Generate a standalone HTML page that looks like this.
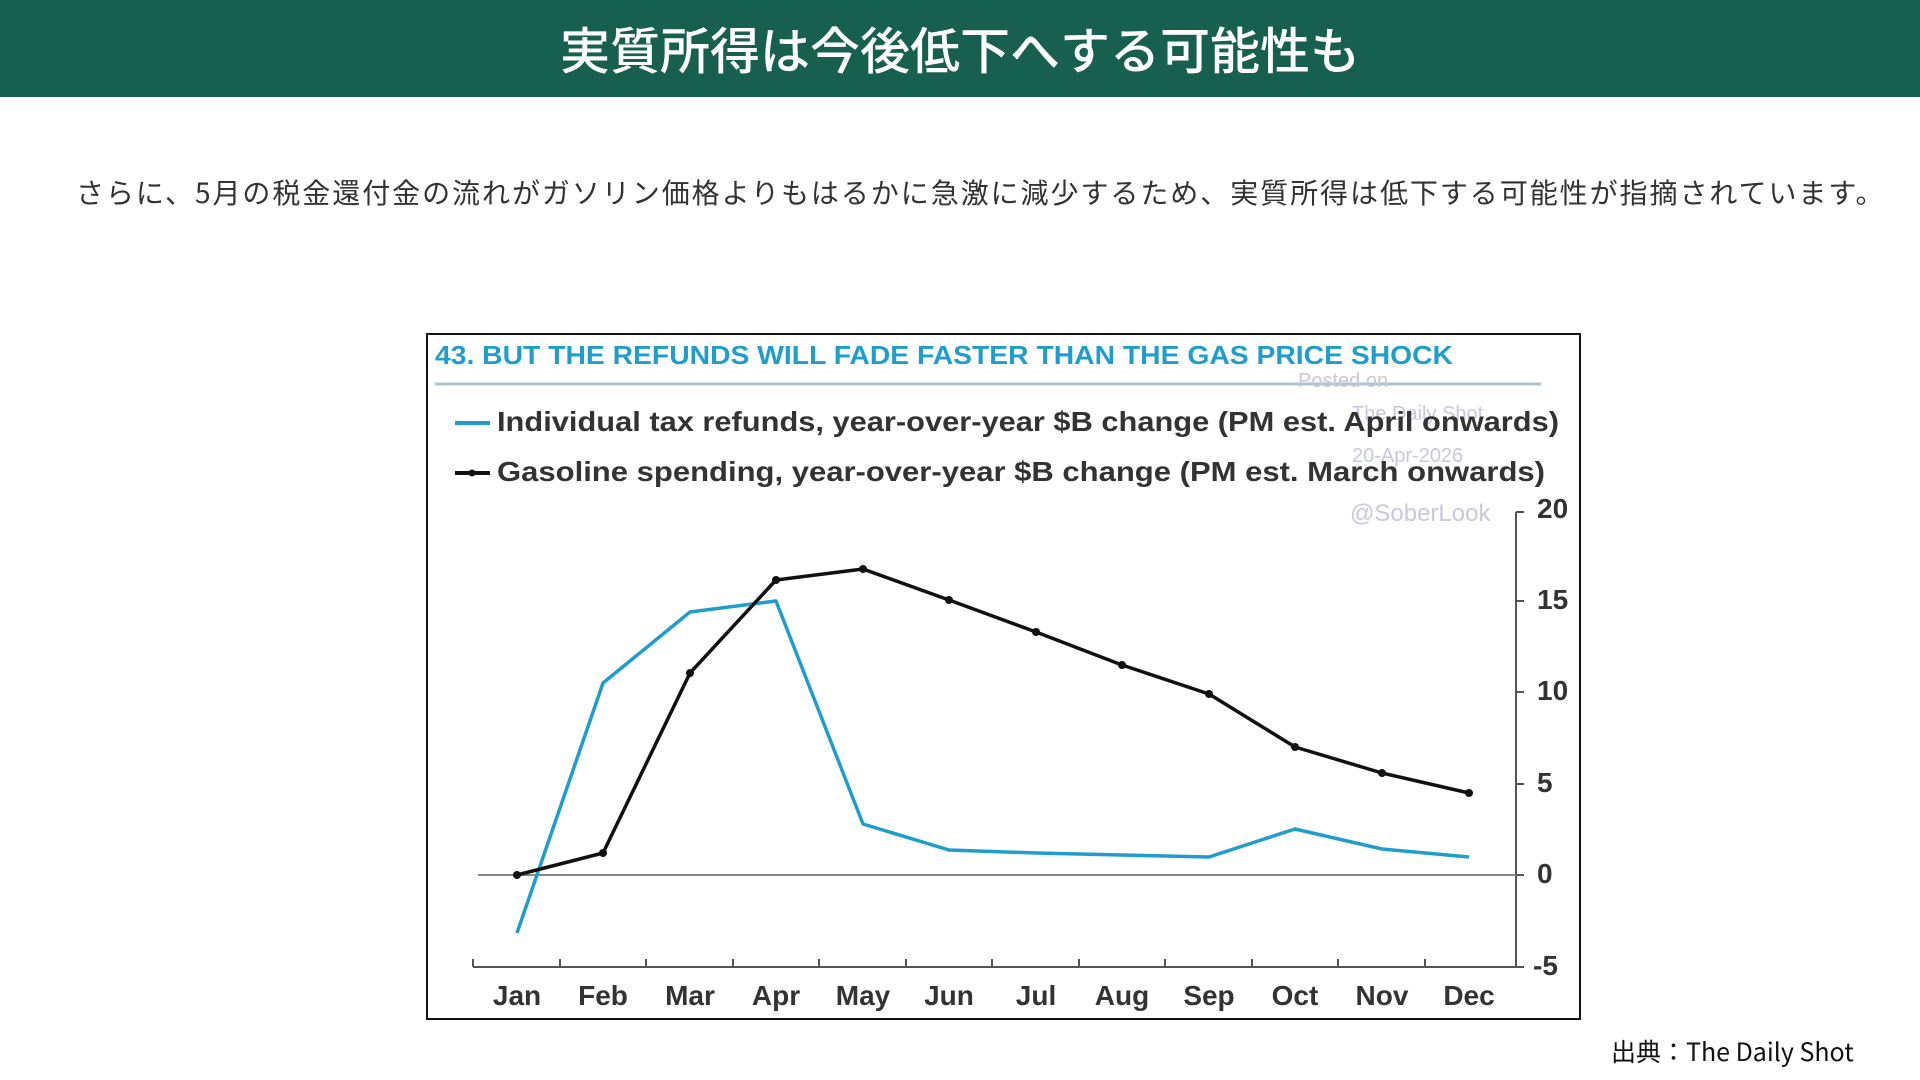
<!DOCTYPE html>
<html><head><meta charset="utf-8"><style>
body{margin:0;width:1920px;height:1080px;background:#fff;position:relative;overflow:hidden;font-family:"Liberation Sans","Noto Sans CJK JP",sans-serif}
.hd{position:absolute;left:0;top:0;width:1920px;height:97px;background:#17604f;color:#fff;font-size:50px;text-align:center;line-height:97px;font-family:"Noto Sans CJK JP",sans-serif;font-weight:500}
.p{position:absolute;left:76px;top:172px;font-size:28px;color:#333;font-family:"Noto Sans CJK JP",sans-serif;white-space:nowrap;letter-spacing:1.95px}
.src{position:absolute;left:1611px;top:1033px;font-size:25px;color:#111;font-family:"Noto Sans CJK JP",sans-serif}
svg{position:absolute;left:0;top:0}
</style></head><body>
<div class="hd">実質所得は今後低下へする可能性も</div>
<div class="p">さらに、5月の税金還付金の流れがガソリン価格よりもはるかに急激に減少するため、実質所得は低下する可能性が指摘されています。</div>
<svg width="1920" height="1080" viewBox="0 0 1920 1080" font-family="Liberation Sans, sans-serif">
<rect x="427" y="334" width="1153" height="685" fill="#fff" stroke="#111" stroke-width="2"/>
<text x="435" y="364" font-size="26" font-weight="bold" fill="#1f9dcc" textLength="1018" lengthAdjust="spacingAndGlyphs">43. BUT THE REFUNDS WILL FADE FASTER THAN THE GAS PRICE SHOCK</text>
<line x1="435" y1="384" x2="1541" y2="384" stroke="#aac4d0" stroke-width="3"/>
<g fill="#c8c8dc" font-size="20"><text x="1298" y="387">Posted on</text><text x="1352" y="420">The Daily Shot</text><text x="1352" y="462">20-Apr-2026</text><text x="1350" y="521" font-size="24">@SoberLook</text></g>
<line x1="455" y1="423" x2="490" y2="423" stroke="#1f9dcc" stroke-width="4"/>
<text x="497" y="431" font-size="28" font-weight="bold" fill="#333" textLength="1062" lengthAdjust="spacingAndGlyphs">Individual tax refunds, year-over-year $B change (PM est. April onwards)</text>
<line x1="455" y1="473" x2="490" y2="473" stroke="#111" stroke-width="4"/><circle cx="472" cy="473" r="3.5" fill="#111"/>
<text x="497" y="481" font-size="28" font-weight="bold" fill="#333" textLength="1048" lengthAdjust="spacingAndGlyphs">Gasoline spending, year-over-year $B change (PM est. March onwards)</text>
<g stroke="#555" stroke-width="2" fill="none">
<line x1="1516" y1="512" x2="1516" y2="967"/><line x1="1516" y1="512" x2="1524" y2="512"/>
<line x1="1516" y1="601" x2="1524" y2="601"/><line x1="1516" y1="692" x2="1524" y2="692"/>
<line x1="1516" y1="784" x2="1524" y2="784"/><line x1="1516" y1="875" x2="1524" y2="875"/><line x1="1516" y1="967" x2="1524" y2="967"/>
<line x1="473" y1="967" x2="1516" y2="967"/>
<path d="M473 967v-8M560 967v-8M646 967v-8M733 967v-8M819 967v-8M906 967v-8M992 967v-8M1079 967v-8M1165 967v-8M1252 967v-8M1338 967v-8M1425 967v-8"/>
</g>
<line x1="478" y1="875" x2="1516" y2="875" stroke="#888" stroke-width="2"/>
<g font-size="28" font-weight="bold" fill="#333"><text x="1537" y="518">20</text><text x="1537" y="609">15</text><text x="1537" y="700">10</text><text x="1537" y="792">5</text><text x="1537" y="883">0</text><text x="1533" y="975">-5</text></g>
<g font-size="28" font-weight="bold" fill="#333" text-anchor="middle"><text x="517" y="1005">Jan</text><text x="603" y="1005">Feb</text><text x="690" y="1005">Mar</text><text x="776" y="1005">Apr</text><text x="863" y="1005">May</text><text x="949" y="1005">Jun</text><text x="1036" y="1005">Jul</text><text x="1122" y="1005">Aug</text><text x="1209" y="1005">Sep</text><text x="1295" y="1005">Oct</text><text x="1382" y="1005">Nov</text><text x="1469" y="1005">Dec</text></g>
<polyline fill="none" stroke="#1f9dcc" stroke-width="3.5" stroke-linejoin="round" points="517,933 603,683 690,612 776,601 863,824 949,850 1036,853 1122,855 1209,857 1295,829 1382,849 1469,857"/>
<polyline fill="none" stroke="#111" stroke-width="3.5" stroke-linejoin="round" points="517,875 603,853 690,673 776,580 863,569 949,600 1036,632 1122,665 1209,694 1295,747 1382,773 1469,793"/>
<g fill="#111"><circle cx="517" cy="875" r="4"/><circle cx="603" cy="853" r="4"/><circle cx="690" cy="673" r="4"/><circle cx="776" cy="580" r="4"/><circle cx="863" cy="569" r="4"/><circle cx="949" cy="600" r="4"/><circle cx="1036" cy="632" r="4"/><circle cx="1122" cy="665" r="4"/><circle cx="1209" cy="694" r="4"/><circle cx="1295" cy="747" r="4"/><circle cx="1382" cy="773" r="4"/><circle cx="1469" cy="793" r="4"/></g>
</svg>
<div class="src">出典：The Daily Shot</div>
</body></html>
